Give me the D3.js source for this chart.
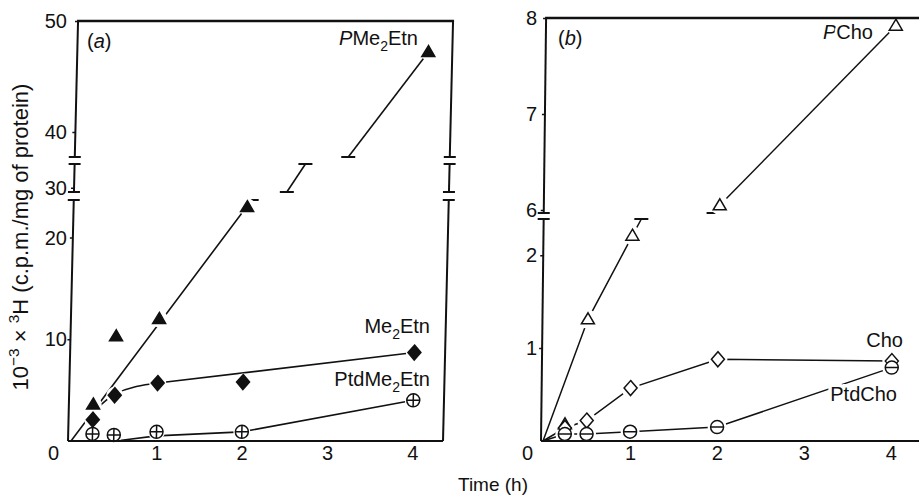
<!DOCTYPE html>
<html>
<head>
<meta charset="utf-8">
<script src="https://cdn.jsdelivr.net/npm/d3@7"></script>
<style>
  body { margin: 0; background: #fff; }
  text { font-family: "Liberation Sans", Arial, Helvetica, sans-serif; fill: #111; }
</style>
</head>
<body>
<div id="chart"></div>
<script>
// Define SVG area dimensions
var svgWidth = 919;
var svgHeight = 495;

// ---- data, panel (a) : 10^-3 x 3H (c.p.m./mg of protein) ----
var timeA = [0.25, 0.5, 1, 2, 4];
var timePMe2Etn = [0.25, 0.5, 1, 2, 4.08];
var pMe2Etn = [3.6, 10.3, 12.0, 23.0, 47.2];
var me2Etn = [2.1, 4.5, 5.7, 5.8, 8.7];
var ptdMe2Etn = [0.7, 0.6, 0.9, 0.9, 4.0];

// lines as drawn by hand (the PMe2Etn line is cut by the axis breaks)
var pMe2EtnFit = [
  [[0, 0], [2.05, 23.7]],
  [[2.46, 29.6], [2.67, 32.3]],
  [[3.17, 37.75], [4.08, 47.2]]
];
var pMe2EtnCaps = [[2.05, 23.7], [2.46, 29.6], [2.67, 32.3], [3.17, 37.75]];
var me2EtnCurve = [[0.27, 3.0], [0.5, 4.6], [1, 5.7]];
var me2EtnStraight = [[1, 5.7], [4, 8.7]];
var ptdMe2EtnFit = [[0.57, 0.05], [1, 0.5], [2, 0.9], [4, 4.0]];

// broken y axis of (a)
var breaksA = [23.7, 29.6, 32.3, 37.75];
var yTicksA = [10, 20, 30, 40, 50];

// ---- data, panel (b) ----
var timeB = [0.25, 0.5, 1, 2, 4];
var pCho = [0.18, 1.31, 2.21, 6.05, 7.92];
var cho = [0.14, 0.22, 0.57, 0.88, 0.86];
var ptdCho = [0.075, 0.075, 0.1, 0.15, 0.79];

var pChoFit = [
  [[0, 0], [0.5, 1.31], [1, 2.21], [1.1, 2.39]],
  [[2, 6.05], [4, 7.92]]
];
var pChoCaps = [[1.1, 2.39], [1.93, 5.97]];

var breaksB = [2.39, 5.97];
var yTicksB = [1, 2, 6, 7, 8];

var xTicks = [0, 1, 2, 3, 4];

// ---------------------------------------------------------------
var svg = d3.select("#chart")
  .append("svg")
  .attr("width", svgWidth)
  .attr("height", svgHeight);

var ink = "#111";

function zip(ts, vs) {
  return ts.map(function(t, i) { return [t, vs[i]]; });
}

// text with italic / sub / sup parts
function addLabel(parent, x, y, anchor, parts, size) {
  var t = parent.append("text")
    .attr("x", x)
    .attr("y", y)
    .attr("text-anchor", anchor)
    .style("font-size", size + "px");
  var shift = 0;
  parts.forEach(function(p) {
    var target = p[1] === "sub" ? size * 0.3 : (p[1] === "sup" ? -size * 0.42 : 0);
    var ts = t.append("tspan").attr("dy", target - shift).text(p[0]);
    if (p[1] === "sub" || p[1] === "sup") ts.style("font-size", (size * 0.7) + "px");
    if (p[1] === "i") ts.style("font-style", "italic");
    shift = target;
  });
  return t;
}

// vertical frame edge with break marks
function brokenEdge(g, x, y, domain, breaks) {
  var stops = [domain[0]].concat(breaks, [domain[1]]);
  for (var i = 0; i < stops.length; i += 2) {
    g.append("line")
      .attr("x1", x).attr("x2", x)
      .attr("y1", y(stops[i])).attr("y2", y(stops[i + 1]))
      .attr("stroke", ink).attr("stroke-width", 2);
    [stops[i], stops[i + 1]].forEach(function(v, j) {
      if ((i === 0 && j === 0) || (i + 1 === stops.length - 1 && j === 1)) return;
      g.append("line")
        .attr("x1", x - 6).attr("x2", x + 6)
        .attr("y1", y(v)).attr("y2", y(v))
        .attr("stroke", ink).attr("stroke-width", 2);
    });
  }
}

function drawCaps(g, caps, x, y) {
  g.selectAll(null)
    .data(caps)
    .enter()
    .append("line")
    .attr("x1", d => x(d[0]) - 7)
    .attr("x2", d => x(d[0]) + 7)
    .attr("y1", d => y(d[1]))
    .attr("y2", d => y(d[1]))
    .attr("stroke", ink)
    .attr("stroke-width", 1.8);
}

var triPath = "M0,-6.5L6.5,4.5L-6.5,4.5Z";
var diaPath = "M0,-7.5L6.5,0L0,7.5L-6.5,0Z";

function drawMarkers(g, pts, x, y, kind) {
  var m = g.selectAll(null)
    .data(pts)
    .enter()
    .append("g")
    .attr("transform", d => `translate(${x(d[0])},${y(d[1])})`);
  if (kind === "triFill" || kind === "triOpen") {
    m.append("path").attr("d", triPath)
      .attr("fill", kind === "triFill" ? ink : "#fff")
      .attr("stroke", ink).attr("stroke-width", 1.5);
  } else if (kind === "diaFill" || kind === "diaOpen") {
    m.append("path").attr("d", diaPath)
      .attr("fill", kind === "diaFill" ? ink : "#fff")
      .attr("stroke", ink).attr("stroke-width", 1.5);
  } else {
    m.append("circle").attr("r", 6.5)
      .attr("fill", "#fff").attr("stroke", ink).attr("stroke-width", 1.5);
    m.append("line").attr("x1", -6.5).attr("x2", 6.5)
      .attr("stroke", ink).attr("stroke-width", 1.5);
    if (kind === "circPlus") {
      m.append("line").attr("y1", -6.5).attr("y2", 6.5)
        .attr("stroke", ink).attr("stroke-width", 1.5);
    }
  }
}

function drawHalos(g, pts, x, y, r) {
  g.selectAll(null)
    .data(pts)
    .enter()
    .append("circle")
    .attr("cx", d => x(d[0]))
    .attr("cy", d => y(d[1]))
    .attr("r", r)
    .attr("fill", "#fff");
}

function styleTicks(sel) {
  sel.select(".domain").remove();
  sel.selectAll("text")
    .attr("font-size", 20)
    .attr("font-family", "Liberation Sans, Arial, sans-serif")
    .attr("fill", ink);
}

// =================== panel (a) ===================
var xA = d3.scaleLinear().domain([-0.035, 4.36]).range([68, 443]);
var yA = d3.scaleLinear()
  .domain([0].concat(breaksA, [50]))
  .range([441, 200, 192, 164, 157, 21]);

// the scanned figure is sheared a little, so skew about the time axis
var plotA = svg.append("g")
  .attr("transform", "translate(0,441) skewX(-1.37) translate(0,-441)");

var lineA = d3.line().x(d => xA(d[0])).y(d => yA(d[1]));
var curveA = d3.line().x(d => xA(d[0])).y(d => yA(d[1])).curve(d3.curveMonotoneX);

pMe2EtnFit.forEach(function(seg) {
  plotA.append("path").attr("d", lineA(seg))
    .attr("fill", "none").attr("stroke", ink).attr("stroke-width", 1.6);
});
drawCaps(plotA, pMe2EtnCaps, xA, yA);

plotA.append("path")
  .attr("d", curveA(me2EtnCurve))
  .attr("fill", "none").attr("stroke", ink).attr("stroke-width", 1.6);
plotA.append("path")
  .attr("d", lineA(me2EtnStraight))
  .attr("fill", "none").attr("stroke", ink).attr("stroke-width", 1.6);

plotA.append("path")
  .attr("d", lineA(ptdMe2EtnFit))
  .attr("fill", "none").attr("stroke", ink).attr("stroke-width", 1.6);

var ptsPMe = zip(timePMe2Etn, pMe2Etn);
var ptsMe = zip(timeA, me2Etn);
var ptsPtdMe = zip(timeA, ptdMe2Etn);

drawHalos(plotA, ptsPMe.concat(ptsMe, ptsPtdMe), xA, yA, 8.5);
drawMarkers(plotA, ptsPMe, xA, yA, "triFill");
drawMarkers(plotA, ptsMe, xA, yA, "diaFill");
drawMarkers(plotA, ptsPtdMe, xA, yA, "circPlus");

// frame of (a)
plotA.append("line")
  .attr("x1", xA.range()[0]).attr("x2", xA.range()[1])
  .attr("y1", yA(0)).attr("y2", yA(0))
  .attr("stroke", ink).attr("stroke-width", 2);
plotA.append("line")
  .attr("x1", xA.range()[0] - 1).attr("x2", xA.range()[1] + 1)
  .attr("y1", yA(50)).attr("y2", yA(50))
  .attr("stroke", ink).attr("stroke-width", 2.4);
brokenEdge(plotA, xA.range()[0], yA, [0, 50], breaksA);
brokenEdge(plotA, xA.range()[1], yA, [0, 50], breaksA);

// y tick marks (on the skewed axis)
var yTickA = plotA.append("g")
  .attr("transform", `translate(${xA.range()[0]},0)`)
  .call(d3.axisLeft(yA).tickValues(yTicksA).tickSize(3).tickFormat(""));
yTickA.select(".domain").remove();
yTickA.selectAll("line").attr("stroke", ink).attr("stroke-width", 1.5);

// y tick labels (not skewed)
var yLabA = svg.append("g")
  .attr("transform", "translate(67,0)")
  .call(d3.axisLeft(yA).tickValues(yTicksA).tickSize(0).tickPadding(0).tickFormat(d3.format("d")));
styleTicks(yLabA);

// x tick labels
var xLabA = svg.append("g")
  .attr("transform", "translate(0,441)")
  .call(d3.axisBottom(xA).tickValues(xTicks).tickSize(0).tickPadding(5).tickFormat(d3.format("d")));
styleTicks(xLabA);
xLabA.selectAll(".tick").filter(d => d === 0).select("text").attr("x", -18);

// series labels
addLabel(svg, 87, 48, "start", [["(", ""], ["a", "i"], [")", ""]], 20);
addLabel(svg, 418, 45, "end", [["P", "i"], ["Me", ""], ["2", "sub"], ["Etn", ""]], 20);
addLabel(svg, 430, 333, "end", [["Me", ""], ["2", "sub"], ["Etn", ""]], 20);
addLabel(svg, 430, 386, "end", [["PtdMe", ""], ["2", "sub"], ["Etn", ""]], 20);

// =================== panel (b) ===================
var xB = d3.scaleLinear().domain([-0.023, 4.45]).range([541, 930]);
var yB = d3.scaleLinear()
  .domain([0].concat(breaksB, [8]))
  .range([441, 219, 213, 18]);

var plotB = svg.append("g")
  .attr("transform", "translate(0,441) skewX(-0.69) translate(0,-441)");

var lineB = d3.line().x(d => xB(d[0])).y(d => yB(d[1]));

pChoFit.forEach(function(seg) {
  plotB.append("path").attr("d", lineB(seg))
    .attr("fill", "none").attr("stroke", ink).attr("stroke-width", 1.5);
});
drawCaps(plotB, pChoCaps, xB, yB);

var ptsPCho = zip(timeB, pCho);
var ptsCho = zip(timeB, cho);
var ptsPtdCho = zip(timeB, ptdCho);

plotB.append("path")
  .attr("d", lineB([[0, 0]].concat(ptsCho)))
  .attr("fill", "none").attr("stroke", ink).attr("stroke-width", 1.5);
plotB.append("path")
  .attr("d", lineB([[0, 0]].concat(ptsPtdCho)))
  .attr("fill", "none").attr("stroke", ink).attr("stroke-width", 1.5);

drawHalos(plotB, ptsPCho.concat(ptsCho, ptsPtdCho), xB, yB, 9.5);
drawMarkers(plotB, ptsPCho, xB, yB, "triOpen");
drawMarkers(plotB, ptsCho, xB, yB, "diaOpen");
drawMarkers(plotB, ptsPtdCho, xB, yB, "circMinus");

// frame of (b)
plotB.append("line")
  .attr("x1", xB.range()[0]).attr("x2", xB.range()[1])
  .attr("y1", yB(0)).attr("y2", yB(0))
  .attr("stroke", ink).attr("stroke-width", 2);
plotB.append("line")
  .attr("x1", xB.range()[0] - 1).attr("x2", xB.range()[1])
  .attr("y1", yB(8)).attr("y2", yB(8))
  .attr("stroke", ink).attr("stroke-width", 2.4);
brokenEdge(plotB, xB.range()[0], yB, [0, 8], breaksB);

var yTickB = plotB.append("g")
  .attr("transform", `translate(${xB.range()[0]},0)`)
  .call(d3.axisLeft(yB).tickValues(yTicksB).tickSize(3).tickFormat(""));
yTickB.select(".domain").remove();
yTickB.selectAll("line").attr("stroke", ink).attr("stroke-width", 1.5);

var yLabB = svg.append("g")
  .attr("transform", "translate(537,0)")
  .call(d3.axisLeft(yB).tickValues(yTicksB).tickSize(0).tickPadding(0).tickFormat(d3.format("d")));
styleTicks(yLabB);

var xLabB = svg.append("g")
  .attr("transform", "translate(0,441)")
  .call(d3.axisBottom(xB).tickValues(xTicks).tickSize(0).tickPadding(5).tickFormat(d3.format("d")));
styleTicks(xLabB);
xLabB.selectAll(".tick").filter(d => d === 0).select("text").attr("x", -16);

addLabel(svg, 558, 45, "start", [["(", ""], ["b", "i"], [")", ""]], 20);
addLabel(svg, 873, 39, "end", [["P", "i"], ["Cho", ""]], 20)
  .style("paint-order", "stroke").style("stroke", "#fff").style("stroke-width", 5);
addLabel(svg, 903, 347, "end", [["Cho", ""]], 20)
  .style("paint-order", "stroke").style("stroke", "#fff").style("stroke-width", 5);
addLabel(svg, 897, 401, "end", [["PtdCho", ""]], 20)
  .style("paint-order", "stroke").style("stroke", "#fff").style("stroke-width", 7);

// =================== shared axis titles ===================
var yTitle = svg.append("g").attr("transform", "translate(28,237) rotate(-90)");
addLabel(yTitle, 0, 0, "middle",
  [["10", ""], ["\u22123", "sup"], [" \u00d7 ", ""], ["3", "sup"], ["H (c.p.m./mg of protein)", ""]], 22);

addLabel(svg, 493, 491, "middle", [["Time (h)", ""]], 19);
</script>
</body>
</html>
